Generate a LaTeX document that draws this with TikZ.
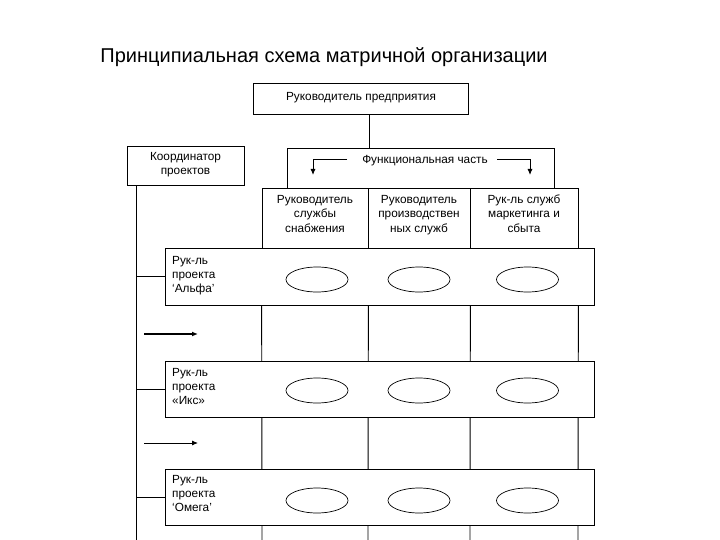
\documentclass[tikz,border=0pt]{standalone}
\usepackage{fontspec}
\setmainfont{Liberation Sans}
\usetikzlibrary{arrows.meta,shapes.geometric}
\begin{document}
\begin{tikzpicture}[x=1pt,y=-1pt,
  box/.style={draw, line width=0.9pt, fill=white, inner sep=0pt},
  txt/.style={inner sep=0pt, font=\fontsize{11.8}{14.5}\selectfont, align=center, yshift=-1.2pt,
    execute at begin node=\strut, execute at end node=\strut},
  rowtxt/.style={inner sep=0pt, font=\fontsize{11.8}{14}\selectfont, align=left, anchor=west, yshift=-1pt,
    execute at begin node=\strut, execute at end node=\strut},
  oval/.style={draw, ellipse, line width=0.7pt, minimum width=62pt, minimum height=25pt, inner sep=0pt},
  ln/.style={line width=0.9pt},
  tip/.style={-{Latex[length=6pt,width=5pt]}}
]
\useasboundingbox (0,0) rectangle (720,540);
\clip (0,0) rectangle (720,540);

% title
\node[inner sep=0pt, font=\fontsize{20}{24}\selectfont] (title) at (324,57) {Принципиальная схема матричной организации};

% top box
\node[box, minimum width=215pt, minimum height=31pt] (top) at (360.5,98.5) {};
\node[txt] (toptxt) at (361,96) {Руководитель предприятия};

% coordinator
\node[box, minimum width=117pt, minimum height=39pt] (coord) at (185.5,165.5) {};
\node[txt] (coordtxt) at (185.5,164.5) {Координатор\\проектов};

% functional part
\node[box, minimum width=267pt, minimum height=40pt] (func) at (420.5,168) {};
\node[txt] (functxt) at (425,159) {Функциональная часть};
\coordinate (fl) at (347,159);
\coordinate (fla) at (313,175);
\coordinate (fr) at (497,159);
\coordinate (fra) at (530,175);
\draw[ln, tip] (fl) -| (fla);
\draw[ln, tip] (fr) -| (fra);

% top -> func
\draw[ln] ([xshift=8.5pt]top.south) -- ([xshift=8.5pt]top.south |- func.north);

% column bottoms
\coordinate (b0) at (262,545);
\coordinate (b1) at (368,545);
\coordinate (b2) at (470,545);
\coordinate (b3) at (578,545);

% column headers
\node[box, minimum width=106pt, minimum height=60pt] (c1) at (315,218) {};
\node[box, minimum width=102pt, minimum height=60pt] (c2) at (419,218) {};
\node[box, minimum width=108pt, minimum height=60pt] (c3) at (524,218) {};
\node[txt] (c1t) at (315,214.5) {Руководитель\\службы\\снабжения};
\node[txt] (c2t) at (419,214.5) {Руководитель\\производствен\\ных служб};
\node[txt] (c3t) at (524,214.5) {Рук-ль служб\\маркетинга и\\сбыта};

\draw[ln] (c1.south west) -- (b0);
\draw[ln] (c1.south east) -- (b1);
\draw[ln] (c2.south east) -- (b2);
\draw[ln] (c3.south east) -- (b3);

% left vertical line
\coordinate (lb) at (136,545);
\draw[ln] (coord.south -| lb) -- (lb);

% project rows
\node[box, minimum width=429pt, minimum height=57pt] (alpha) at (379.5,276.5) {};
\node[box, minimum width=429pt, minimum height=56pt] (iks) at (379.5,389) {};
\node[box, minimum width=429pt, minimum height=56pt] (omega) at (379.5,497) {};

\node[rowtxt] (alphat) at (172,276) {Рук-ль\\проекта\\‘Альфа’};
\node[rowtxt] (ikst) at (172,387.5) {Рук-ль\\проекта\\«Икс»};
\node[rowtxt] (omegat) at (172,495) {Рук-ль\\проекта\\‘Омега’};

\draw[ln] (alpha.west -| lb) -- (alpha.west);
\draw[ln] (iks.west -| lb) -- (iks.west);
\draw[ln] (omega.west -| lb) -- (omega.west);

% ovals
\node[oval] (a1) at (317,279.5) {};
\node[oval] (a2) at (419,279.5) {};
\node[oval] (a3) at (527.5,279.5) {};
\node[oval] (i1) at (317,390.5) {};
\node[oval] (i2) at (419,390.5) {};
\node[oval] (i3) at (527.5,390.5) {};
\node[oval] (o1) at (317,500.5) {};
\node[oval] (o2) at (419,500.5) {};
\node[oval] (o3) at (527.5,500.5) {};

% left arrows
\coordinate (ar1s) at (144,334);
\coordinate (ar1e) at (198,334);
\coordinate (ar2s) at (144,443);
\coordinate (ar2e) at (198,443);
\coordinate (ar3s) at (144,542.5);
\coordinate (ar3e) at (198,542.5);
\draw[line width=1.6pt, tip] (ar1s) -- (ar1e);
\draw[ln, tip] (ar2s) -- (ar2e);
\draw[ln, tip] (ar3s) -- (ar3e);
\end{tikzpicture}
\end{document}
